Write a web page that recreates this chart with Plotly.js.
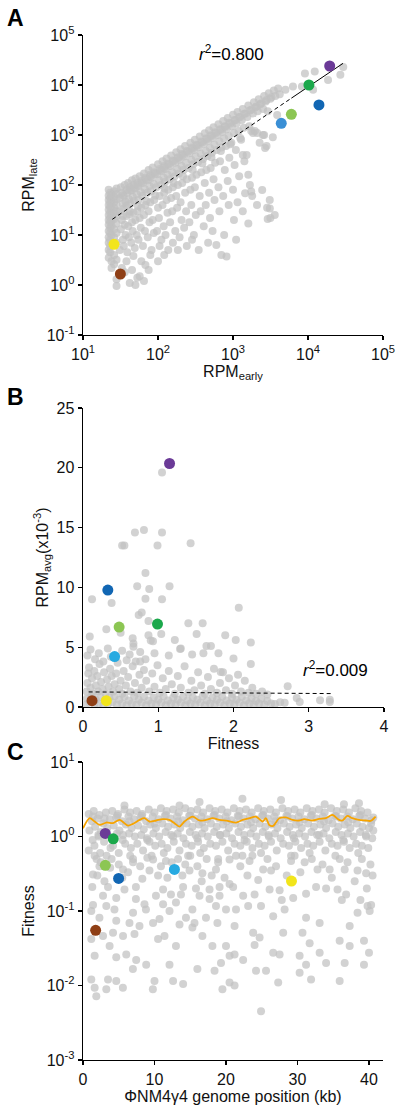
<!DOCTYPE html>
<html>
<head>
<meta charset="utf-8">
<script src="https://cdn.plot.ly/plotly-3.0.1.min.js"></script>
<style>html,body{margin:0;padding:0;background:#fff;}#chart{width:400px;height:1111px;}</style>
</head>
<body>
<div id="chart"></div>
<script>
// ---------- Panel A: RPM early vs RPM late (gray = all genes) ----------
const grayA = [
[22,80],[22,62],[22,50],[22,40],[22,32],[22,25],[22,20],[22,16],[22,12],[22,9],[22,7],[22,5],[22,3.5],
[23,70],[23,55],[23,44],[23,36],[23,28],[23,22],[23,18],[23,14],[23,11],[23,8],[23,6],[23,4.5],
[24,65],[24,48],[24,33],[24,25],[24,19],[24,15],[24,10],[24,3],[24,2.2],
[26,75],[26,58],[26,45],[26,35],[26,27],[26,21],[26,13],[26,9],[26,4],[26,2.6],
[28,85],[28,66],[28,52],[28,40],[28,30],[28,24],[28,17],[28,11],[28,7],[28,3.2],[28,0.95],[28,1.3],
[32,90],[33,70],[31,55],[34,42],[31,30],[33,20],[32,13],[34,8],[31,5],[33,2.2],
[36,100],[38,80],[35,60],[37,46],[35,34],[38,24],[36,16],[37,10],[35,6],[38,3],[36,1.8],
[40,110],[42,90],[39,70],[41,52],[38,38],[42,26],[40,15],[41,9],[39,4.5],[42,1.1],
[45,125],[47,100],[44,78],[46,58],[43,42],[47,28],[45,18],[46,12],[44,7],[47,3.8],[45,2],
[50,135],[53,110],[49,85],[52,65],[48,48],[53,30],[50,20],[52,10],[49,5.5],[53,1.4],[50,1.0],
[57,150],[60,120],[55,95],[59,72],[55,50],[60,35],[57,22],[59,14],[55,8],[60,3],[57,1.5],
[65,170],[68,140],[63,110],[67,82],[62,60],[68,40],[65,25],[67,12],[63,6],[68,2.5],[65,1.2],
[75,200],[79,160],[73,125],[77,95],[72,70],[79,45],[75,30],[77,18],[73,9],[79,4],[75,2],
[85,225],[89,180],[82,140],[88,105],[81,75],[89,50],[85,20],[88,11],[82,5],
[100,260],[105,210],[97,165],[103,125],[95,90],[105,60],[100,35],[103,22],[97,12],[105,6],[100,3],
[115,300],[121,240],[111,190],[119,140],[110,100],[121,70],[115,40],[119,15],[111,8],[121,4],
[130,340],[137,270],[126,210],[134,160],[124,115],[137,80],[130,50],[134,28],[126,10],[137,5],
[150,390],[158,310],[145,240],[155,180],[143,130],[158,90],[150,55],[155,30],[145,18],[158,7],
[175,450],[184,360],[170,280],[180,210],[167,150],[184,100],[175,60],[180,35],[170,12],[184,5],
[200,520],[210,420],[194,320],[206,240],[190,170],[210,110],[200,45],[206,20],[194,9],
[230,600],[242,480],[223,370],[237,280],[219,200],[242,130],[230,70],[237,30],[223,14],[242,6],
[270,700],[284,560],[262,430],[278,320],[257,220],[284,140],[270,80],[278,40],[262,18],[284,8],
[310,800],[326,640],[301,500],[319,370],[295,260],[326,160],[310,90],[319,25],[301,10],
[360,930],[378,740],[349,570],[371,420],[342,290],[378,180],[360,60],[371,30],[349,5],
[420,1080],[441,860],[407,660],[433,480],[399,330],[441,200],[420,110],[433,40],[407,15],
[480,1250],[504,990],[466,760],[494,550],[456,380],[504,220],[480,70],[494,22],[466,7],
[550,1430],[578,1130],[534,870],[567,640],[523,440],[578,280],[550,130],[567,50],[534,12],
[640,1650],[672,1300],[621,1000],[659,740],[608,500],[672,300],[640,90],[659,30],
[740,1900],[777,1500],[718,1150],[762,850],[703,560],[777,200],[740,60],[762,10],
[850,2200],[893,1750],[825,1300],[876,950],[808,600],[893,350],[850,120],[876,40],
[1000,2550],[1050,2000],[970,1500],[1030,1100],[950,700],[1050,250],[1000,80],[1030,20],
[1150,2900],[1208,2300],[1116,1700],[1185,1200],[1093,500],[1208,150],[1150,45],
[1350,3300],[1418,2650],[1310,2000],[1390,1400],[1283,800],[1418,300],[1350,30],
[1600,3900],[1680,3100],[1552,2300],[1648,1500],[1520,400],[1680,100],
[1900,4500],[1995,3600],[1843,2700],[1957,1200],[1805,60],
[2200,5200],[2310,4100],[2134,3000],[2266,700],[2090,40],
[2600,6000],[2730,4700],[2522,3300],[2678,550],
[3000,6800],[3150,5300],[2910,3000],[3090,50],[2850,35],[3150,22],
[3500,7800],[3675,6000],[3395,900],[3605,25],
[4000,8500],[4200,6500],[3880,2500],
[34,63],[42,78],[48,88],[54,100],[61,112],[70,130],[80,150],[92,170],[107,195],[122,225],[140,260],[162,300],[187,345],[215,400],[250,460],[290,540],[335,620],[390,720],[450,830],[515,950],[595,1100],[690,1280],[795,1470],[925,1700],[1075,1980],[1250,2300],[1475,2700],[1750,3200],[2050,3700],[2400,4300],[2800,5000],[3250,5700],
[34,24],[42,30],[54,38],[70,48],[92,62],[122,85],[162,110],[215,150],[290,200],[390,270],[515,360],[690,480],[925,650],[1250,870],[1750,1200],
[9100,17000],[12300,18600],[18500,12600],[27000,16000],[29500,23000],[6300,9300],[8300,9300],[11700,8000],[5000,8000],
[2800,600],[1350,400],[1600,160],[2500,1000],[1850,1100],[2100,1100],[2600,1000],
[1450,68],[1750,74],[2450,79],[3100,34],[2900,21],[1600,17],[820,3.7],[1100,8],[600,6.3],[700,4]
];
const fitA_x = [24.6, 6000];
const fitA_y = [20.6, 5450];
const fitA2_x = [6000, 29300];
const fitA2_y = [5450, 27100];

// highlighted genes: purple, green, dark blue, light green, light blue, yellow, brown
const hiA_x = [19450, 10300, 14000, 6000, 4400, 25.9, 31.5];
const hiA_y = [24000, 10000, 4000, 2590, 1710, 6.5, 1.66];
const hiColorsA = ['#6b3a97','#1ba84b','#1166b3','#8cc653','#3a8fd5','#f2e51b','#8f3f16'];

// ---------- Panel B: Fitness vs RPM avg (x10^-3) ----------
const grayB = [
[0.04,0.2],[0.05,0.7],[0.09,0.4],[0.11,0.9],[0.15,0.2],[0.17,0.6],[0.21,0.3],[0.23,0.85],[0.27,0.15],[0.29,0.55],[0.33,0.25],[0.35,0.8],[0.39,0.4],[0.42,0.9],[0.45,0.2],[0.48,0.6],[0.52,0.3],[0.55,0.85],[0.58,0.15],[0.61,0.55],[0.65,0.3],[0.68,0.9],[0.71,0.2],[0.74,0.6],[0.78,0.35],[0.81,0.85],[0.84,0.15],[0.87,0.55],[0.91,0.3],[0.94,0.8],[0.97,0.2],[1.0,0.6],[1.04,0.35],[1.07,0.9],[1.1,0.15],[1.13,0.55],[1.17,0.3],[1.2,0.8],[1.23,0.2],[1.26,0.6],[1.3,0.35],[1.33,0.85],[1.36,0.15],[1.39,0.55],[1.43,0.3],[1.46,0.8],[1.49,0.2],[1.52,0.6],[1.56,0.35],[1.59,0.9],[1.62,0.15],[1.65,0.55],[1.69,0.3],[1.72,0.8],[1.75,0.2],[1.78,0.6],[1.82,0.35],[1.85,0.85],[1.88,0.15],[1.91,0.55],[1.95,0.3],[1.98,0.8],[2.01,0.2],[2.04,0.6],[2.08,0.35],[2.11,0.85],[2.14,0.15],[2.17,0.55],[2.21,0.3],[2.24,0.75],[2.27,0.2],[2.3,0.5],[2.34,0.3],[2.37,0.7],[2.41,0.2],[2.45,0.5],[2.5,0.3],[2.55,0.25],[2.62,0.4],
[2.72,1.73],[2.84,0.75],[2.88,0.42],[3.15,0.56],[3.28,0.6],[3.28,0.42],[2.68,0.35],
[0.05,1.3],[0.06,2.0],[0.07,2.8],[0.08,3.3],[0.1,1.6],[0.12,2.4],[0.13,1.1],[0.15,3.0],[0.17,1.8],[0.19,2.6],[0.2,1.3],[0.22,3.6],[0.24,2.1],[0.26,1.5],[0.28,2.9],[0.3,1.1],[0.32,2.3],[0.34,1.7],[0.36,3.2],[0.38,2.6],[0.4,1.3],[0.42,1.9],[0.44,2.8],[0.46,3.7],[0.48,1.5],[0.5,2.2],[0.52,1.1],[0.54,3.0],[0.57,1.8],[0.6,2.5],[0.63,1.3],[0.66,3.4],[0.69,2.0],[0.72,1.2],[0.75,2.7],[0.78,1.6],[0.81,3.1],[0.84,2.2],[0.88,1.3],[0.92,2.8],[0.95,1.7],[0.99,3.5],[1.02,1.2],[1.06,2.4],[1.1,1.5],[1.14,3.0],[1.18,1.9],[1.22,1.1],[1.26,2.6],[1.3,1.6],[1.35,3.4],[1.4,1.2],[1.44,2.2],[1.48,1.4],[1.53,2.9],[1.57,1.8],[1.62,1.1],[1.66,2.5],[1.7,1.5],[1.74,3.2],[1.78,1.2],[1.82,2.0],[1.86,2.9],[1.9,1.4],[1.94,2.4],[1.98,1.1],[2.02,1.8],[2.06,2.7],[2.1,1.3],[2.15,2.2],[2.2,1.2],[2.25,1.6],[2.3,1.1],[2.38,1.3],[2.45,1.05],
[0.06,4.3],[0.1,4.8],[0.16,4.0],[0.21,4.5],[0.27,3.8],[0.33,4.9],[0.37,4.2],[0.52,4.7],[0.58,3.9],[0.62,4.4],[0.7,3.8],[0.76,4.6],[0.83,4.0],[0.95,4.5],[1.14,4.3],[1.45,4.4],[1.6,4.5],[1.8,4.5],[2.0,4.05],[2.23,3.6],[1.83,2.93],[1.3,4.9],[0.67,5.3],[0.93,5.5],[1.64,5.1],[1.7,5.1],[2.23,5.4],[2.03,5.6],[1.89,6.0],[1.51,6.1],[1.04,6.1],[0.87,6.0],[0.09,5.9],[0.5,6.2],[0.31,6.5],[1.4,7.0],[1.59,7.0],[0.87,7.2],[0.74,7.7],[0.78,7.9],[2.07,8.3],[0.38,8.7],[0.12,9.0],[0.83,9.05],[1.05,9.0],[0.88,9.86],[0.72,10.1],[1.15,10.1],[0.83,11.2],[0.52,13.5],[0.55,13.5],[0.99,13.5],[1.43,13.7],[0.69,14.6],[0.81,14.8],[1.05,14.6],[1.05,19.6],[0.67,5.04],[0.76,3.8],[0.66,5.74],[0.9,5.55],[1.22,5.6],[1.29,4.85]
];
const fitB_x = [0.075, 3.33];
const fitB_y = [1.26, 1.12];
const hiB_x = [1.15, 0.99, 0.33, 0.48, 0.42, 0.31, 0.12];
const hiB_y = [20.36, 6.93, 9.78, 6.68, 4.22, 0.53, 0.53];
const hiColorsB = ['#6b3a97','#1ba84b','#1166b3','#8cc653','#27aae1','#f2e51b','#8f3f16'];

// ---------- Panel C: genome position vs fitness ----------
const grayC = [
[0.8,2.0],[1.25,1.6],[0.9,1.2],[1.35,0.9],[0.8,0.65],
[1.5,2.2],[2.05,1.75],[1.7,1.35],[2.15,1.05],[1.6,0.75],[1.9,0.5],
[2.3,1.95],[2.85,1.5],[2.5,1.15],[2.95,0.85],[2.4,0.6],
[3.2,2.1],[3.75,1.7],[3.4,1.3],[3.85,0.7],[3.3,0.55],
[4.1,2.2],[4.65,1.8],[4.3,1.4],[4.75,1.1],[4.2,0.75],
[4.9,2.0],[5.45,1.6],[5.1,1.2],[5.55,0.9],[5.0,0.6],
[5.8,2.3],[6.35,1.85],[6.0,1.45],[6.45,1.1],[5.9,0.8],
[6.6,2.1],[7.15,1.7],[6.8,1.3],[7.25,1.0],[6.7,0.7],[7.0,0.5],
[7.5,2.2],[8.05,1.8],[7.7,1.4],[8.15,1.05],[7.6,0.8],
[8.3,2.0],[8.85,1.6],[8.5,1.25],[8.95,0.95],[8.4,0.65],
[9.2,2.3],[9.75,1.85],[9.4,1.45],[9.85,1.1],[9.3,0.85],[9.6,0.55],
[10.0,2.1],[10.55,1.7],[10.2,1.3],[10.65,1.0],[10.1,0.75],
[10.9,2.4],[11.45,1.9],[11.1,1.5],[11.55,1.15],[11.0,0.8],[11.3,0.6],
[11.7,2.2],[12.25,1.75],[11.9,1.35],[12.35,1.05],[11.8,0.7],
[12.6,2.3],[13.15,1.85],[12.8,1.45],[13.25,1.1],[12.7,0.85],
[13.4,2.1],[13.95,1.65],[13.6,1.3],[14.05,0.95],[13.5,0.65],
[14.3,2.4],[14.85,1.9],[14.5,1.5],[14.95,1.15],[14.4,0.8],[14.7,0.55],
[15.1,2.2],[15.65,1.75],[15.3,1.35],[15.75,1.05],[15.2,0.75],
[16.0,2.3],[16.55,1.85],[16.2,1.45],[16.65,1.1],[16.1,0.85],[16.4,0.6],
[16.8,2.1],[17.35,1.7],[17.0,1.3],[17.45,1.0],[16.9,0.7],
[17.7,2.4],[18.25,1.9],[17.9,1.5],[18.35,1.15],[17.8,0.8],
[18.5,2.2],[19.05,1.75],[18.7,1.35],[19.15,1.05],[18.6,0.75],[18.9,0.5],
[19.4,2.3],[19.95,1.85],[19.6,1.45],[20.05,1.1],[19.5,0.85],
[20.2,2.1],[20.75,1.65],[20.4,1.3],[20.85,0.95],[20.3,0.65],
[21.1,2.4],[21.65,1.9],[21.3,1.5],[21.75,1.15],[21.2,0.8],
[21.9,2.2],[22.45,1.75],[22.1,1.35],[22.55,1.05],[22.0,0.75],[22.3,0.55],
[22.8,2.3],[23.35,1.85],[23.0,1.45],[23.45,1.1],[22.9,0.85],
[23.6,2.1],[24.15,1.7],[23.8,1.3],[24.25,1.0],[23.7,0.7],
[24.5,2.4],[25.05,1.9],[24.7,1.5],[25.15,1.15],[24.6,0.8],[24.9,0.6],
[25.3,2.2],[25.85,1.75],[25.5,1.35],[25.95,1.05],[25.4,0.75],
[26.2,2.3],[26.75,1.85],[26.4,1.45],[26.85,1.1],[26.3,0.85],
[27.0,2.1],[27.55,1.65],[27.2,1.3],[27.65,0.95],[27.1,0.65],
[27.9,2.4],[28.45,1.9],[28.1,1.5],[28.55,1.15],[28.0,0.8],
[28.7,2.2],[29.25,1.75],[28.9,1.35],[29.35,1.05],[28.8,0.75],[29.1,0.55],
[29.6,2.3],[30.15,1.85],[29.8,1.45],[30.25,1.1],[29.7,0.85],
[30.4,2.1],[30.95,1.7],[30.6,1.3],[31.05,1.0],[30.5,0.7],
[31.3,2.4],[31.85,1.9],[31.5,1.5],[31.95,1.15],[31.4,0.8],[31.7,0.6],
[32.1,2.2],[32.65,1.75],[32.3,1.35],[32.75,1.05],[32.2,0.75],
[33.0,2.3],[33.55,1.85],[33.2,1.45],[33.65,1.1],[33.1,0.85],
[33.8,2.1],[34.35,1.65],[34.0,1.3],[34.45,0.95],[33.9,0.65],
[34.7,2.4],[35.25,1.9],[34.9,1.5],[35.35,1.15],[34.8,0.8],
[35.5,2.2],[36.05,1.75],[35.7,1.35],[36.15,1.05],[35.6,0.75],[35.9,0.5],
[36.4,2.3],[36.95,1.85],[36.6,1.45],[37.05,1.1],[36.5,0.85],
[37.2,2.1],[37.75,1.7],[37.4,1.3],[37.85,1.0],[37.3,0.7],
[38.1,2.4],[38.65,1.9],[38.3,1.5],[38.75,1.15],[38.2,0.8],[38.5,0.6],
[38.9,2.2],[39.45,1.75],[39.1,1.35],[39.55,1.05],[39.0,0.75],
[39.8,2.1],[40.35,1.65],[40.0,1.3],[40.45,0.95],[39.9,0.7],
[40.6,1.8],[40.6,1.2],
[1.4,1.85],[3.0,1.75],[4.8,1.9],[6.5,1.6],[8.2,1.9],[10.0,1.5],[11.6,1.95],[13.3,1.6],[15.0,1.9],[16.7,1.55],[18.4,1.95],[20.1,1.6],[21.8,1.85],[23.5,1.55],[25.2,1.95],[26.9,1.6],[28.6,1.85],[30.3,1.55],[32.0,1.95],[33.7,1.6],[35.4,1.85],[37.1,1.55],[38.8,1.95],[40.3,1.5],
[2.2,1.0],[5.6,1.05],[9.0,0.9],[12.6,1.0],[16.0,0.95],[19.2,1.05],[22.6,0.9],[26.0,1.0],[29.5,0.95],[33.0,1.05],[36.4,0.9],[39.6,1.0],
[16.3,2.9],[22.3,3.2],[27.7,3.1],[38.6,2.8],[36.5,2.7],[13.5,2.6],[5.8,2.6],[33.8,2.7],
[1.63,0.55],[1.3,0.21],[1.4,0.12],[1.16,0.1],[1.16,0.042],[1.63,0.025],[1.16,0.012],[1.86,0.0072],[1.63,0.0093],[3.5,0.012],[3.26,0.0089],[4.65,0.0115],[5.58,0.0093],[3.72,0.034],[4.65,0.024],[6.05,0.026],[7.44,0.022],[6.98,0.0166],[8.84,0.019],[10.0,0.0115],[9.77,0.0089],[12.1,0.019],[12.6,0.0115],[14.0,0.0105],[16.0,0.0166],[18.4,0.0158],[19.3,0.02],[20.5,0.011],[19.5,0.0089],
[2.8,0.046],[4.2,0.051],[5.6,0.046],[7.9,0.063],[7.2,0.049],[10.5,0.042],[11.4,0.046],[13.0,0.034],[15.3,0.06],[16.7,0.046],[18.1,0.034],[20.0,0.034],[20.5,0.025],
[4.65,0.074],[6.5,0.069],[9.8,0.069],[10.7,0.078],[13.5,0.066],[14.4,0.081],[15.6,0.069],[17.2,0.081],[18.8,0.069],[2.3,0.081],
[3.26,0.117],[4.4,0.105],[7.0,0.095],[8.8,0.105],[12.1,0.1],[13.0,0.13],[11.2,0.123],[15.3,0.105],[18.6,0.117],[20.0,0.105],
[2.8,0.16],[4.65,0.15],[7.4,0.145],[8.6,0.123],[10.2,0.16],[12.3,0.166],[13.7,0.166],[16.3,0.16],[17.7,0.145],[19.1,0.16],
[1.4,0.31],[3.5,0.21],[5.8,0.195],[7.4,0.21],[11.2,0.195],[14.0,0.21],[15.8,0.2],[17.7,0.195],[19.1,0.21],[20.5,0.23],
[2.3,0.4],[5.6,0.36],[7.0,0.45],[9.3,0.35],[9.8,0.49],[11.6,0.47],[14.9,0.35],[16.7,0.32],[18.6,0.36],[20.5,0.49],
[21.4,0.55],[23.3,0.47],[25.2,0.36],[26.3,0.35],[29.1,0.47],[31.0,0.45],[32.8,0.36],[34.5,0.36],[36.6,0.36],[38.4,0.35],[39.6,0.32],
[21.0,0.21],[22.4,0.16],[24.0,0.166],[26.1,0.195],[27.5,0.19],[29.4,0.15],[31.2,0.17],[32.6,0.21],[34.0,0.2],[35.6,0.195],[36.8,0.166],
[21.4,0.105],[23.1,0.117],[24.9,0.117],[26.6,0.085],[28.2,0.105],[31.2,0.081],[33.1,0.069],[37.3,0.063],[38.4,0.095],[39.8,0.117],
[21.2,0.063],[23.8,0.051],[24.7,0.044],[28.0,0.051],[30.7,0.051],[31.7,0.037],[35.9,0.04],[37.3,0.034],[39.3,0.04],
[24.0,0.035],[26.6,0.0275],[27.5,0.026],[30.3,0.025],[33.1,0.0275],[34.0,0.02],[36.6,0.02],[21.2,0.026],[22.4,0.022],
[24.2,0.0158],[25.6,0.0158],[27.3,0.011],[30.3,0.0148],[31.9,0.012],[35.9,0.0115],[21.2,0.01],[24.9,0.0045],[31.2,0.019],[39.3,0.019],[40.0,0.0275],
[2.0,0.3],[2.5,0.45],[3.0,0.25],[3.8,0.38],[4.0,0.5],[5.0,0.42],[5.5,0.28],[6.3,0.33],[6.6,0.55],[8.0,0.4],[8.3,0.27],[9.0,0.52],[10.5,0.3],[10.9,0.4],[11.8,0.28],[12.4,0.45],[13.3,0.5],[13.9,0.3],[14.3,0.42],[15.0,0.55],[16.0,0.4],[16.6,0.25],[17.3,0.5],[18.0,0.3],[18.9,0.45],[19.8,0.28],
[22.0,0.4],[23.0,0.3],[23.7,0.55],[24.5,0.26],[25.8,0.5],[27.0,0.4],[28.5,0.3],[29.6,0.55],[30.4,0.33],[32.0,0.5],[33.5,0.42],[34.8,0.28],[35.3,0.55],[37.0,0.45],[38.0,0.25],[39.0,0.5],[40.2,0.42],[40.5,0.3],[39.7,0.2],[40.3,0.12],[40.1,0.1],[38.8,0.14],[36.2,0.14],[27.8,0.14]
];
// running average (orange)
const runC_x = [0,0.93,1.63,2.33,3.26,4.19,5.12,6.28,6.98,7.91,8.6,9.3,10.23,11.16,12.09,12.79,13.49,14.19,15.35,16.28,17.21,18.14,19.07,20.23,21.4,22.33,23.26,24.19,25.12,25.58,26.05,26.6,27.44,28.37,29.3,30.23,30.93,32.09,33.02,33.95,34.88,35.81,36.28,36.98,37.67,38.6,39.53,40.23,40.93];
const runC_y = [1.29,1.76,1.59,1.43,1.54,1.51,1.67,1.40,1.48,1.67,1.76,1.59,1.64,1.71,1.67,1.51,1.36,1.59,1.85,1.64,1.67,1.76,1.67,1.62,1.54,1.67,1.76,1.85,1.59,1.76,1.43,1.39,1.76,1.80,1.67,1.64,1.71,1.64,1.72,1.76,1.95,1.67,1.64,1.89,1.76,1.67,1.64,1.62,1.85];
const hiC_x = [3.12, 4.23, 4.98, 3.12, 12.79, 29.16, 1.77];
const hiC_y = [1.10, 0.93, 0.274, 0.41, 0.361, 0.252, 0.055];
const hiColorsC = hiColorsB;

// tick labels
const logTicksA_x = [10,100,1000,10000,100000];
const logTextA_x = ['10<sup>1</sup>','10<sup>2</sup>','10<sup>3</sup>','10<sup>4</sup>','10<sup>5</sup>'];
const logTicksA_y = [0.1,1,10,100,1000,10000,100000];
const logTextA_y = ['10<sup>-1</sup>','10<sup>0</sup>','10<sup>1</sup>','10<sup>2</sup>','10<sup>3</sup>','10<sup>4</sup>','10<sup>5</sup>'];
const logTicksC_y = [0.001,0.01,0.1,1,10];
const logTextC_y = ['10<sup>-3</sup>','10<sup>-2</sup>','10<sup>-1</sup>','10<sup>0</sup>','10<sup>1</sup>'];
const ticksC_x = [0,10,20,30,40];

// ---------- build ----------
const FONT = 'Liberation Sans, Arial, Helvetica, sans-serif';
const GRAY = 'rgba(192,192,192,0.72)';
const px = a => a.map(p => p[0]);
const py = a => a.map(p => p[1]);

function grayTrace(d, xa, ya) {
  return {type:'scatter', mode:'markers', x:px(d), y:py(d), xaxis:xa, yaxis:ya,
    marker:{size:8, color:GRAY, line:{width:0}}, hoverinfo:'skip'};
}
function hiTrace(x, y, c, xa, ya) {
  return {type:'scatter', mode:'markers', x:x, y:y, xaxis:xa, yaxis:ya,
    marker:{size:11, color:c, line:{width:0}}, hoverinfo:'skip'};
}

const traces = [
  grayTrace(grayA, 'x', 'y'),
  {type:'scatter', mode:'lines', x:fitA_x, y:fitA_y, xaxis:'x', yaxis:'y', line:{color:'#000', width:1, dash:'4px,3px'}},
  {type:'scatter', mode:'lines', x:fitA2_x, y:fitA2_y, xaxis:'x', yaxis:'y', line:{color:'#000', width:1}},
  hiTrace(hiA_x, hiA_y, hiColorsA, 'x', 'y'),
  grayTrace(grayB, 'x2', 'y2'),
  {type:'scatter', mode:'lines', x:fitB_x, y:fitB_y, xaxis:'x2', yaxis:'y2', line:{color:'#000', width:1, dash:'4px,3px'}},
  hiTrace(hiB_x, hiB_y, hiColorsB, 'x2', 'y2'),
  grayTrace(grayC, 'x3', 'y3'),
  {type:'scatter', mode:'lines', x:runC_x, y:runC_y, xaxis:'x3', yaxis:'y3', line:{color:'#f7a400', width:1.8, shape:'spline', smoothing:0.8}},
  hiTrace(hiC_x, hiC_y, hiColorsC, 'x3', 'y3')
];

const W = 400, H = 1111;
const dx = (a, b) => [a / W, b / W];
const dy = (top, bot) => [1 - bot / H, 1 - top / H];

const axBase = {
  showline:true, linecolor:'#000', linewidth:1.4, mirror:false,
  ticks:'outside', ticklen:4, tickwidth:1.2, tickcolor:'#000',
  showgrid:false, zeroline:false, tickfont:{family:FONT, size:16, color:'#111'},
  fixedrange:true
};
function ax(extra) { return Object.assign({}, axBase, extra); }

function label(t, xpx, ypx, size) {
  return {text:t, xref:'paper', yref:'paper', x:xpx / W, y:1 - ypx / H, xanchor:'center', yanchor:'middle',
    showarrow:false, font:{size:size, family:FONT, color:'#000'}};
}

const layout = {
  width:W, height:H, margin:{l:0, r:0, t:0, b:0},
  paper_bgcolor:'#fff', plot_bgcolor:'rgba(0,0,0,0)', showlegend:false,
  font:{family:FONT, color:'#111'},
  xaxis: ax({domain:dx(83,383), anchor:'y', type:'log', range:[1,5], tickmode:'array', tickvals:logTicksA_x, ticktext:logTextA_x,
    title:{text:'RPM<sub>early</sub>', font:{size:16}, standoff:2}}),
  yaxis: ax({domain:dy(35,335), anchor:'x', type:'log', range:[-1,5], tickmode:'array', tickvals:logTicksA_y, ticktext:logTextA_y,
    title:{text:'RPM<sub>late</sub>', font:{size:16}, standoff:8}}),
  xaxis2: ax({domain:dx(83,384), anchor:'y2', range:[0,4], dtick:1, tick0:0,
    title:{text:'Fitness', font:{size:16}, standoff:0}}),
  yaxis2: ax({domain:dy(408,707), anchor:'x2', range:[0,25], dtick:5, tick0:0,
    title:{text:'RPM<sub>avg</sub>(x10<sup>-3</sup>)', font:{size:16}, standoff:4}}),
  xaxis3: ax({domain:dx(83,383), anchor:'y3', range:[0,41.96], tickmode:'array', tickvals:ticksC_x,
    title:{text:'ΦNM4γ4 genome position (kb)', font:{size:16}, standoff:1}}),
  yaxis3: ax({domain:dy(762,1060), anchor:'x3', type:'log', range:[-3,1], tickmode:'array', tickvals:logTicksC_y, ticktext:logTextC_y,
    title:{text:'Fitness', font:{size:16}, standoff:8}}),
  annotations:[
    label('<b>A</b>', 15, 18, 23),
    label('<b>B</b>', 15, 397, 23),
    label('<b>C</b>', 15, 752, 23),
    label('<i>r</i><sup>2</sup>=0.800', 232, 53, 17),
    label('<i>r</i><sup>2</sup>=0.009', 335, 669, 17)
  ]
};

Plotly.newPlot('chart', traces, layout, {staticPlot:true, displayModeBar:false});
</script>
</body>
</html>
